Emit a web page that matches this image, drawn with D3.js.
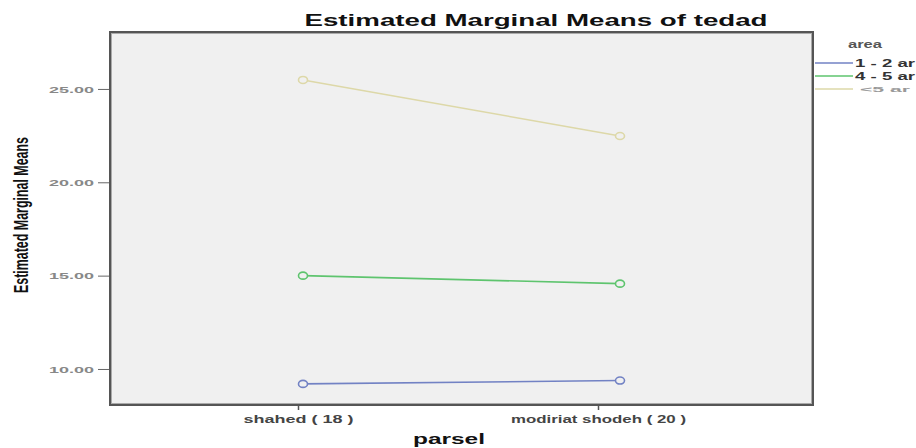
<!DOCTYPE html>
<html><head><meta charset="utf-8">
<script src="https://cdn.jsdelivr.net/npm/d3@7"></script>
<style>body{margin:0;background:#fff}svg{display:block}</style>
</head><body>
<svg id="c" width="916" height="448"></svg>
<script>
const categories = ["shahed ( 18 )", "modiriat shodeh ( 20 )"];
const seriesNames = ["1 - 2 ar", "4 - 5 ar", "<5 ar"];
const series12 = [9.20, 9.38];
const series45 = [15.00, 14.57];
const series5 = [25.48, 22.48];
const yTicks = [10, 15, 20, 25];
const colors = ["#7282c4", "#5ec46e", "#ddd8a8"];

const FONT = "Liberation Sans, Arial, sans-serif";
const svg = d3.select("#c");
const L = 110, T = 32, R = 813, B = 405;

const y = d3.scaleLinear().domain([8.07, 28.05]).range([B, T]);
const xAxisScale = d3.scalePoint().domain(categories).range([298, 598]);
const xLine = d3.scalePoint().domain(categories).range([303, 620]);

svg.append("rect").attr("x", L).attr("y", T).attr("width", R - L).attr("height", B - T)
  .attr("fill", "#f0f0f0").attr("stroke", "#555").attr("stroke-width", 2);
svg.append("rect").attr("x", L + 1.5).attr("y", T + 1.5).attr("width", R - L - 3).attr("height", B - T - 3)
  .attr("fill", "none").attr("stroke", "#aaa").attr("stroke-width", 1);

// y axis
const yAx = svg.append("g").attr("transform", `translate(${L - 1},0)`)
  .call(d3.axisLeft(y).tickValues(yTicks).tickFormat(d3.format(".2f")).tickSize(11).tickSizeOuter(0));
yAx.select(".domain").remove();
yAx.selectAll("line").attr("stroke", "#666");
yAx.selectAll("text").attr("fill", "#888").attr("font-family", FONT).attr("font-weight", "bold")
  .attr("font-size", 9).attr("dx", -1).attr("dy", "0.35em")
  .attr("textLength", 45).attr("lengthAdjust", "spacingAndGlyphs");

// x axis
const xAx = svg.append("g").attr("transform", `translate(0,${B + 1})`)
  .call(d3.axisBottom(xAxisScale).tickSize(4).tickSizeOuter(0));
xAx.select(".domain").remove();
xAx.selectAll("line").attr("stroke", "#555").attr("stroke-width", 1.5);
xAx.selectAll("text").attr("fill", "#444").attr("font-family", FONT).attr("font-weight", "bold")
  .attr("font-size", 11).attr("dy", "0.95em")
  .attr("textLength", d => d.length > 15 ? 175 : 110).attr("lengthAdjust", "spacingAndGlyphs");

// lines
const data = [series12, series45, series5];
const line = d3.line().x((d, i) => xLine(categories[i])).y(d => y(d));
data.forEach((s, k) => {
  svg.append("path").datum(s).attr("d", line).attr("fill", "none")
    .attr("stroke", colors[k]).attr("stroke-width", 1.6);
  svg.selectAll(null).data(s).enter().append("ellipse")
    .attr("cx", (d, i) => xLine(categories[i])).attr("cy", d => y(d))
    .attr("rx", 4.5).attr("ry", 3.5)
    .attr("fill", "#f0f0f0").attr("stroke", colors[k]).attr("stroke-width", 1.6);
});

// title
svg.append("text").attr("x", 536).attr("y", 26).attr("text-anchor", "middle")
  .attr("font-family", FONT).attr("font-weight", "bold")
  .attr("font-size", 17).attr("fill", "#111")
  .attr("textLength", 463).attr("lengthAdjust", "spacingAndGlyphs")
  .text("Estimated Marginal Means of tedad");

// y label
svg.append("text").attr("transform", "translate(28,215) rotate(-90)").attr("text-anchor", "middle")
  .attr("font-family", FONT).attr("font-weight", "bold")
  .attr("font-size", 20).attr("fill", "#111")
  .attr("textLength", 156).attr("lengthAdjust", "spacingAndGlyphs")
  .text("Estimated Marginal Means");

// x label
svg.append("text").attr("x", 449).attr("y", 444).attr("text-anchor", "middle")
  .attr("font-family", FONT).attr("font-weight", "bold")
  .attr("font-size", 15).attr("fill", "#111")
  .attr("textLength", 72).attr("lengthAdjust", "spacingAndGlyphs").text("parsel");

// legend
const lg = svg.append("g");
lg.append("text").attr("x", 865).attr("y", 48).attr("text-anchor", "middle")
  .attr("font-family", FONT).attr("font-size", 11).attr("font-weight", "bold")
  .attr("fill", "#555").attr("textLength", 34).attr("lengthAdjust", "spacingAndGlyphs").text("area");
const ly = d3.scalePoint().domain(seriesNames).range([63, 89]);
seriesNames.forEach((n, k) => {
  lg.append("line").attr("x1", 815).attr("x2", 853).attr("y1", ly(n)).attr("y2", ly(n))
    .attr("stroke", colors[k]).attr("stroke-width", 1.6);
  lg.append("text").attr("x", k === 2 ? 860 : 855).attr("y", ly(n) + (k === 2 ? 3 : 4))
    .attr("font-family", FONT).attr("font-size", k === 2 ? 8 : 10).attr("font-weight", "bold")
    .attr("fill", k === 2 ? "#999" : "#333")
    .attr("textLength", k === 2 ? 50 : 60).attr("lengthAdjust", "spacingAndGlyphs").text(n);
});
</script>
</body></html>
